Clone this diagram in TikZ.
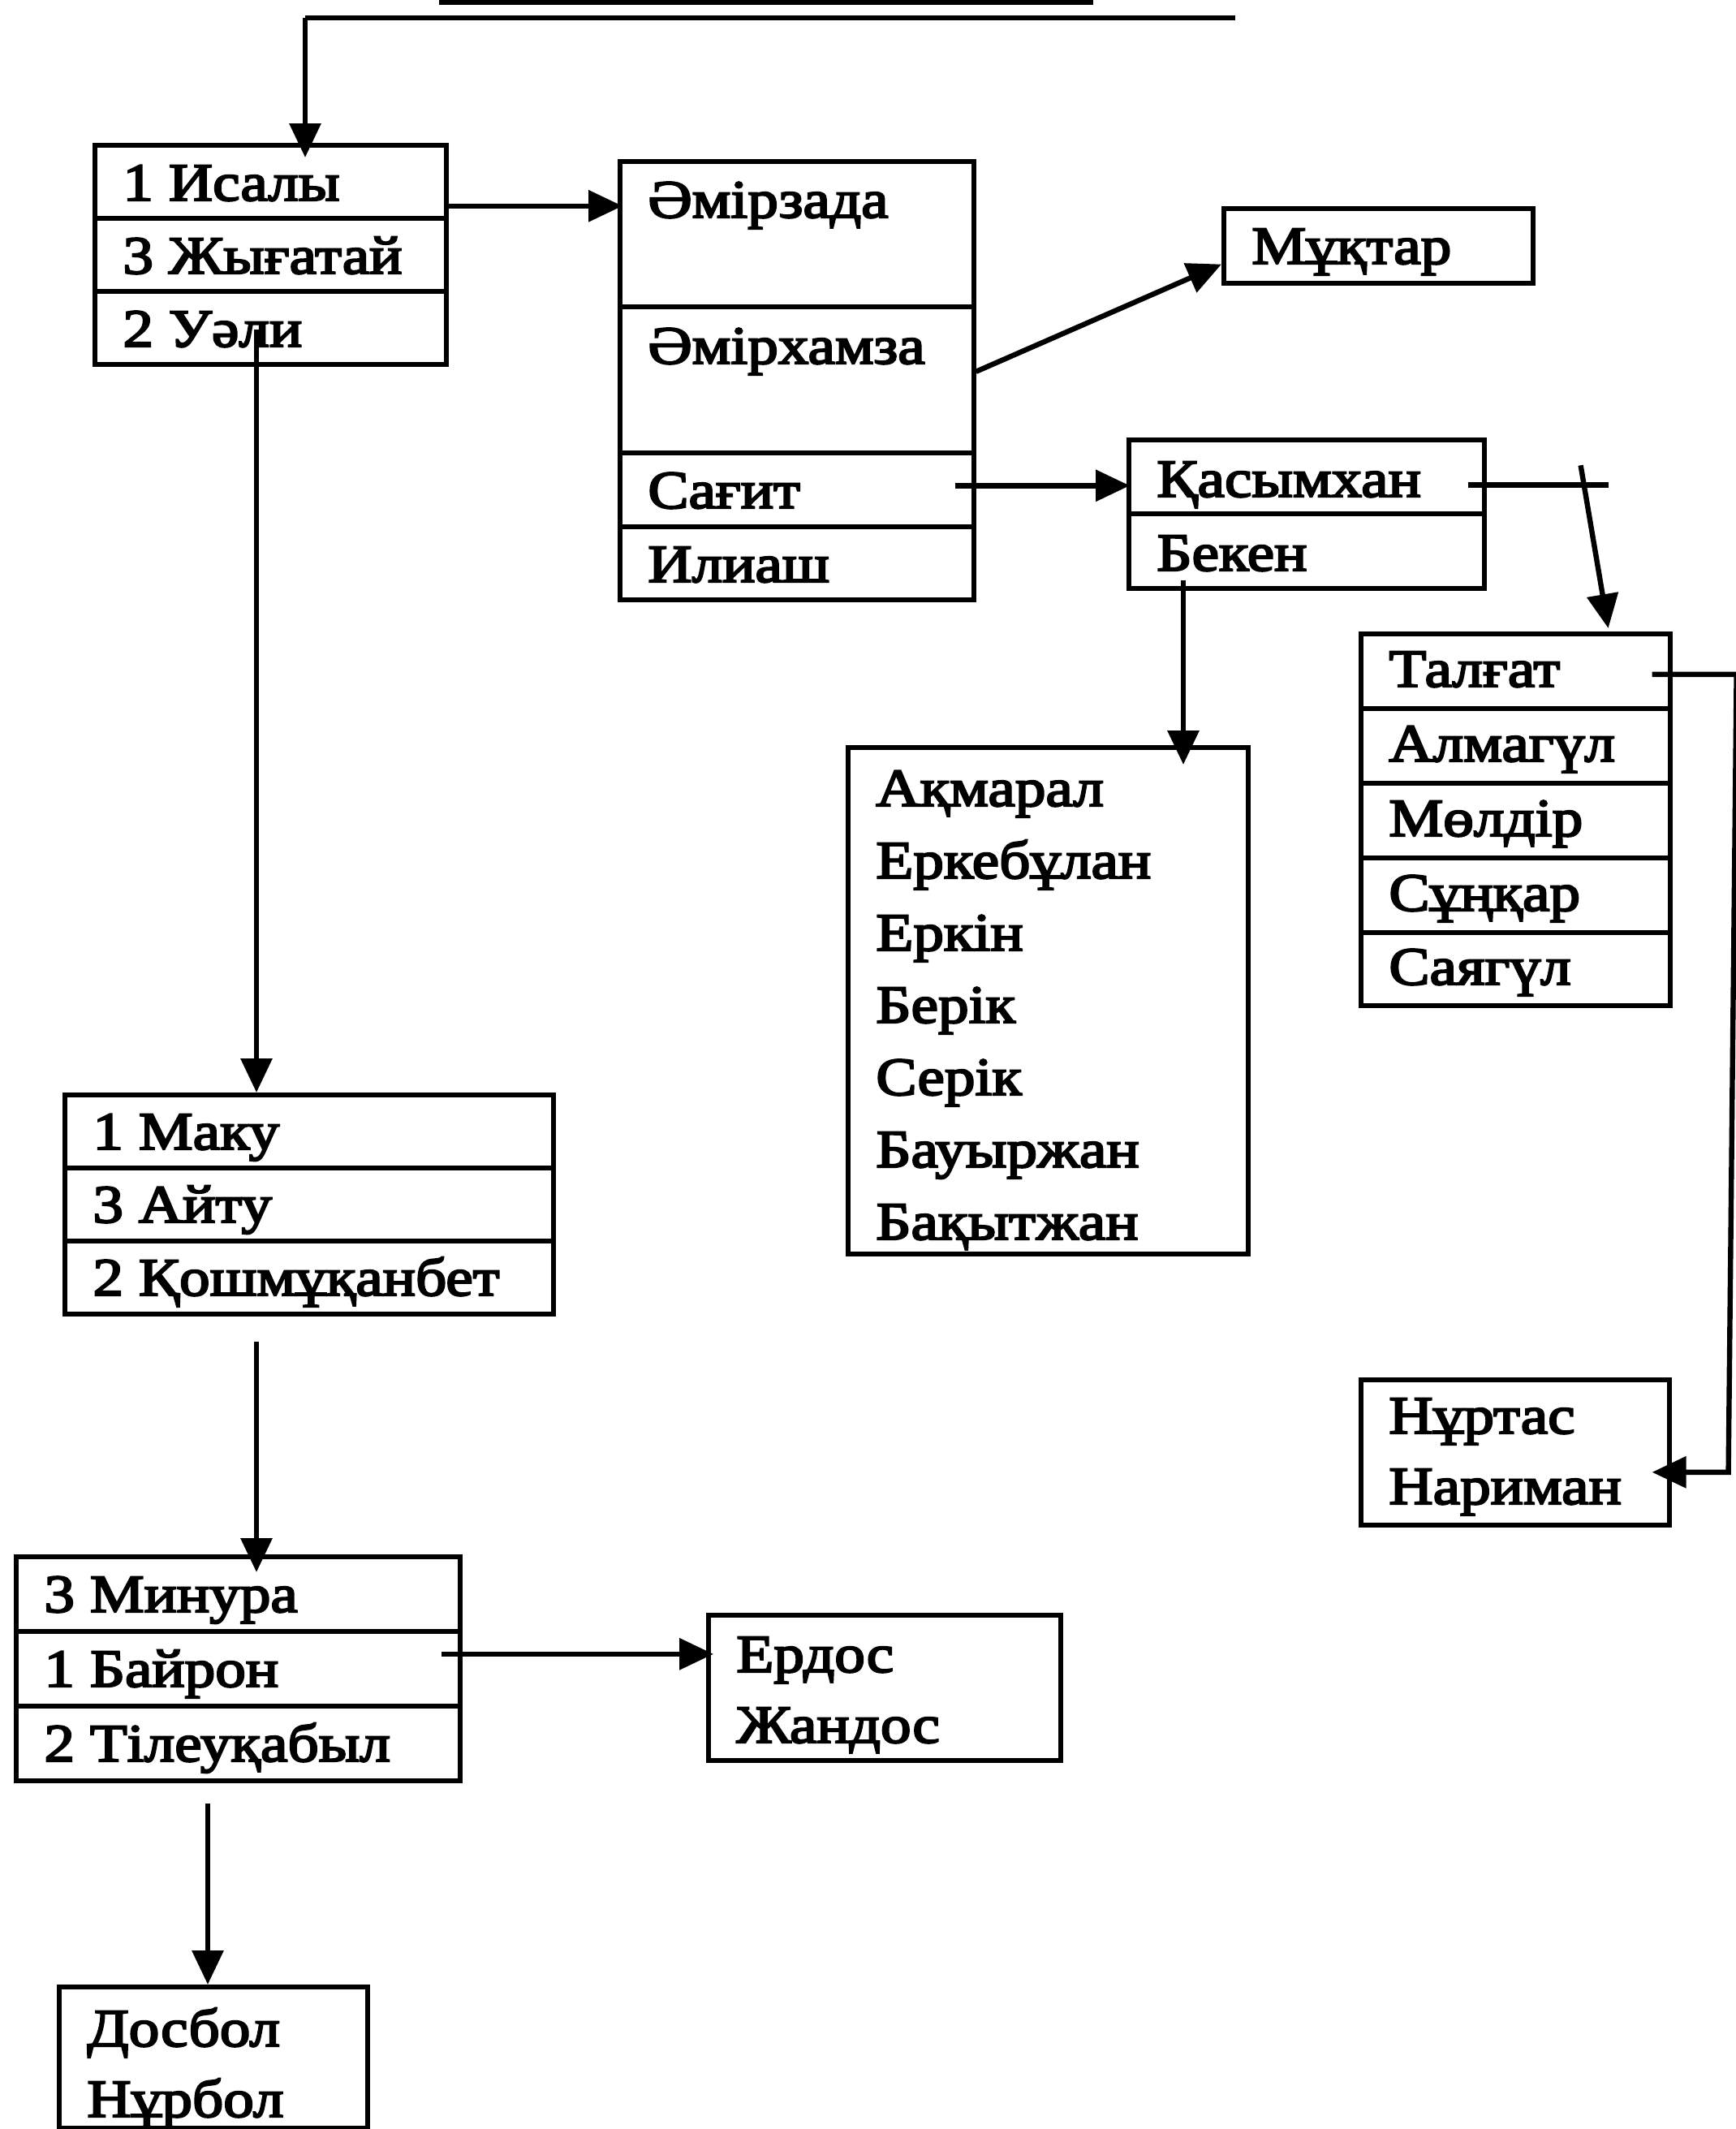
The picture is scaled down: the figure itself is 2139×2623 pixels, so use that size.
\documentclass[tikz,border=0pt]{standalone}
\usepackage{fontspec}
\setmainfont{Liberation Serif}
\newfontfamily\heavyserif[FakeBold=3.5,FakeStretch=1.14]{Liberation Serif}
\usetikzlibrary{calc,arrows.meta}
\begin{document}
\begin{tikzpicture}[x=0.5pt,y=-0.5pt,
  cell/.style 2 args={draw, line width=2.8pt, anchor=north west, inner sep=0pt, minimum width=#1, minimum height=#2},
  txt/.style={anchor=base west, inner sep=0pt, font=\heavyserif\fontsize{33}{39}\selectfont},
  conn/.style={line width=3.2pt, -{Triangle[length=21pt,width=19pt]}},
  plain/.style={line width=3.2pt}]
\useasboundingbox (0,0) rectangle (2139,2623);
\fill[white] (0,0) rectangle (2139,2623);
% cut-off fragment at top
\draw[line width=3.5pt] (541,2) -- (1347,2);
% Box A
\node[cell={216.5pt}{45pt}] (a1) at (114,176) {};
\node[cell={216.5pt}{45pt}] (a2) at (114,266) {};
\node[cell={216.5pt}{45pt}] (a3) at (114,356) {};
\node[txt] (ta1) at (151,247) {1 Исалы};
\node[txt] (ta2) at (151,337) {3 Жығатай};
\node[txt] (ta3) at (151,427) {2 Уәли};
% Box B
\node[cell={218pt}{89.5pt}] (b1) at (761,196) {};
\node[cell={218pt}{90pt}] (b2) at (761,375) {};
\node[cell={218pt}{45.5pt}] (b3) at (761,555) {};
\node[cell={218pt}{45pt}] (b4) at (761,646) {};
\node[txt] (tb1) at (798,268) {Әмірзада};
\node[txt] (tb2) at (798,448) {Әмірхамза};
\node[txt] (tb3) at (798,626) {Сағит};
\node[txt] (tb4) at (798,717) {Илиаш};
% Box C
\node[cell={190.5pt}{46pt}] (c1) at (1505,254) {};
\node[txt] (tc1) at (1542,325) {Мұқтар};
% Box D
\node[cell={219pt}{45.5pt}] (d1) at (1388,539) {};
\node[cell={219pt}{46pt}] (d2) at (1388,630) {};
\node[txt] (td1) at (1425,612) {Қасымхан};
\node[txt] (td2) at (1425,703) {Бекен};
% Box E
\node[cell={190.5pt}{46pt}] (e1) at (1674,778) {};
\node[cell={190.5pt}{46pt}] (e2) at (1674,870) {};
\node[cell={190.5pt}{46pt}] (e3) at (1674,962) {};
\node[cell={190.5pt}{46pt}] (e4) at (1674,1054) {};
\node[cell={190.5pt}{45pt}] (e5) at (1674,1146) {};
\node[txt] (te1) at (1711,846) {Талғат};
\node[txt] (te2) at (1711,938) {Алмагүл};
\node[txt] (te3) at (1711,1030) {Мөлдір};
\node[txt] (te4) at (1711,1122) {Сұңқар};
\node[txt] (te5) at (1711,1213) {Саягүл};
% Box F
\node[cell={190pt}{89.5pt}] (f) at (1674,1697) {};
\node[txt] (tf1) at (1711,1766) {Нұртас};
\node[txt] (tf2) at (1711,1853) {Нариман};
% Box G
\node[cell={246.5pt}{312pt}] (g) at (1042,918) {};
\node[txt] (tg1) at (1079,993) {Ақмарал};
\node[txt] (tg2) at (1079,1082) {Еркебұлан};
\node[txt] (tg3) at (1079,1171) {Еркін};
\node[txt] (tg4) at (1079,1260) {Берік};
\node[txt] (tg5) at (1079,1349) {Серік};
\node[txt] (tg6) at (1079,1438) {Бауыржан};
\node[txt] (tg7) at (1079,1527) {Бақытжан};
% Box H
\node[cell={301pt}{45pt}] (h1) at (77,1346) {};
\node[cell={301pt}{45pt}] (h2) at (77,1436) {};
\node[cell={301pt}{45pt}] (h3) at (77,1526) {};
\node[txt] (th1) at (114,1416) {1 Маку};
\node[txt] (th2) at (114,1506) {3 Айту};
\node[txt] (th3) at (114,1596) {2 Қошмұқанбет};
% Box I
\node[cell={273.5pt}{46pt}] (i1) at (17,1915) {};
\node[cell={273.5pt}{46pt}] (i2) at (17,2007) {};
\node[cell={273.5pt}{46pt}] (i3) at (17,2099) {};
\node[txt] (ti1) at (54,1986) {3 Минура};
\node[txt] (ti2) at (54,2078) {1 Байрон};
\node[txt] (ti3) at (54,2170) {2 Тілеуқабыл};
% Box J
\node[cell={217pt}{89.5pt}] (j) at (870,1987) {};
\node[txt] (tj1) at (907,2060) {Ердос};
\node[txt] (tj2) at (907,2147) {Жандос};
% Box K
\node[cell={190pt}{87pt}] (k) at (70,2445) {};
\node[txt] (tk1) at (107,2521) {Досбол};
\node[txt] (tk2) at (107,2608) {Нұрбол};
% connectors
\coordinate (tl) at (376,22);
\coordinate (tr) at (1522,22);
\draw[line width=3.2pt] (tr) -- (tl);
\draw[conn] (tl) -- ($(tl |- a1.north)+(0,18)$);
\coordinate (ab) at ($(a1.east)+(0,30)$);
\draw[conn] (ab) -- ($(ab -| b1.west)+(6,0)$);
\coordinate (bc) at ($(b2.east)+(0,-10)$);
\draw[conn] (bc) -- ($(c1.south west)+(0,-26)$);
\coordinate (sg) at ($(b3.east)+(-26,-5)$);
\draw[conn] (sg) -- ($(sg -| d1.west)+(4,0)$);
\coordinate (ka) at ($(d1.east)+(-23,10)$);
\coordinate (kb) at ($(d1.east)+(150,10)$);
\draw[plain] (ka) -- (kb);
\coordinate (kt) at ($(d1.east)+(116,-14)$);
\draw[conn] (kt) -- ($(kb |- e1.north)+(0,-4)$);
\coordinate (bk) at ($(d2.south west)+(70,-13)$);
\draw[conn] (bk) -- ($(bk |- g.north)+(0,24)$);
\coordinate (tgs) at ($(e1.east)+(-25,4)$);
\coordinate (rc1) at ($(tgs)+(104,0)$);
\coordinate (rc2) at ($(f.east)+(70,24.5)$);
\coordinate (nr) at ($(f.east)+(-24,24.5)$);
\draw[conn] (tgs) -- (rc1) -- (rc2) -- (nr);
\coordinate (ua) at ($(a3.south west)+(202,-46)$);
\draw[conn] (ua) -- (ua |- h1.north);
\coordinate (hi) at ($(h3.south west)+(239,31)$);
\draw[conn] (hi) -- ($(hi |- i1.north)+(0,22)$);
\coordinate (by) at ($(i2.east)+(-26,-18)$);
\draw[conn] (by) -- ($(by -| j.west)+(9,0)$);
\coordinate (ik) at ($(i3.south west)+(239,25)$);
\draw[conn] (ik) -- (ik |- k.north);
\end{tikzpicture}
\end{document}
